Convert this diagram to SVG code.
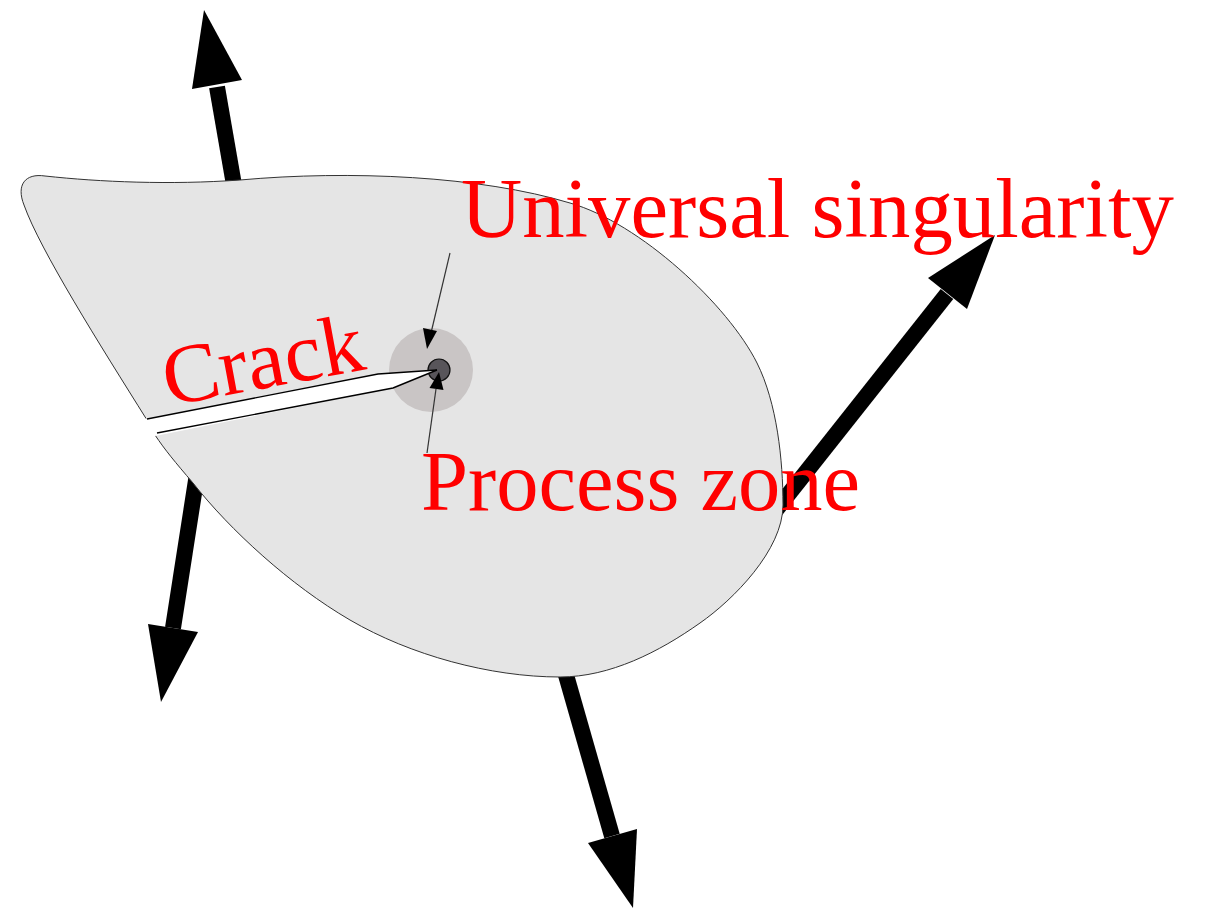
<svg xmlns="http://www.w3.org/2000/svg" width="1208" height="908" viewBox="0 0 1208 908">
<style>
.shaft{stroke:#000;stroke-width:16;fill:none}
.head{fill:#000}
.lbl{font-family:"Liberation Serif","Times New Roman",serif;font-size:84px;fill:#ff0000}
.thin{stroke:#333;stroke-width:1.2;fill:none}
.crackline{stroke:#000;stroke-width:1.4;fill:none}
</style>
<rect width="1208" height="908" fill="#fff"/>
<g id="loads">
<line class="shaft" x1="234" y1="185" x2="217" y2="87"/>
<polygon class="head" points="204,10 242,80 192,89"/>
<line class="shaft" x1="776" y1="510" x2="947" y2="294"/>
<polygon class="head" points="995,235 967,309 928,278"/>
<line class="shaft" x1="197" y1="474" x2="173" y2="628"/>
<polygon class="head" points="161,702 198,632 148,624"/>
<line class="shaft" x1="564" y1="668" x2="612" y2="836"/>
<polygon class="head" points="633,908 588,843 637,829"/>
</g>
<g id="body">
<path d="M147,420 C100,345 40,250 24,205 C16,185 25,173 45,176 C100,182 170,185 240,180 C350,170 480,176 570,203 C640,223 728,305 757,363 C777,403 783,460 783,505 C783,550 733,600 700,623 C659,652 610,677 560,677 C490,677 410,655 350,620 C290,585 230,530 193,483 C175,462 165,450 155,435 Z" fill="#e5e5e5" stroke="#333" stroke-width="1"/>
</g>
<g id="process-zone">
<circle cx="431" cy="370" r="42" fill="#c9c5c5"/>
<circle cx="439" cy="370" r="11" fill="#58555a" stroke="#111" stroke-width="1.2"/>
</g>
<g id="crack">
<polygon points="133,421 378,374 437,370 393,388 150,437" fill="#fff"/>
<polyline class="crackline" points="147,419 378,374 437,370"/>
<polyline class="crackline" points="157,433 393,388 437,370"/>
</g>
<g id="connectors">
<line class="thin" x1="450" y1="253" x2="431" y2="333"/>
<polygon class="head" points="427,349 437,331 423,328"/>
<line class="thin" x1="427" y1="453" x2="436" y2="389"/>
<polygon class="head" points="439,372 443.5,390 429.5,388"/>
</g>
<g id="labels">
<text class="lbl" x="461" y="237" textLength="713" lengthAdjust="spacingAndGlyphs">Universal singularity</text>
<text class="lbl" x="421" y="510" textLength="439" lengthAdjust="spacingAndGlyphs">Process zone</text>
<text class="lbl" transform="translate(168,406) rotate(-10.5)" textLength="203" lengthAdjust="spacingAndGlyphs">Crack</text>
</g>
</svg>
